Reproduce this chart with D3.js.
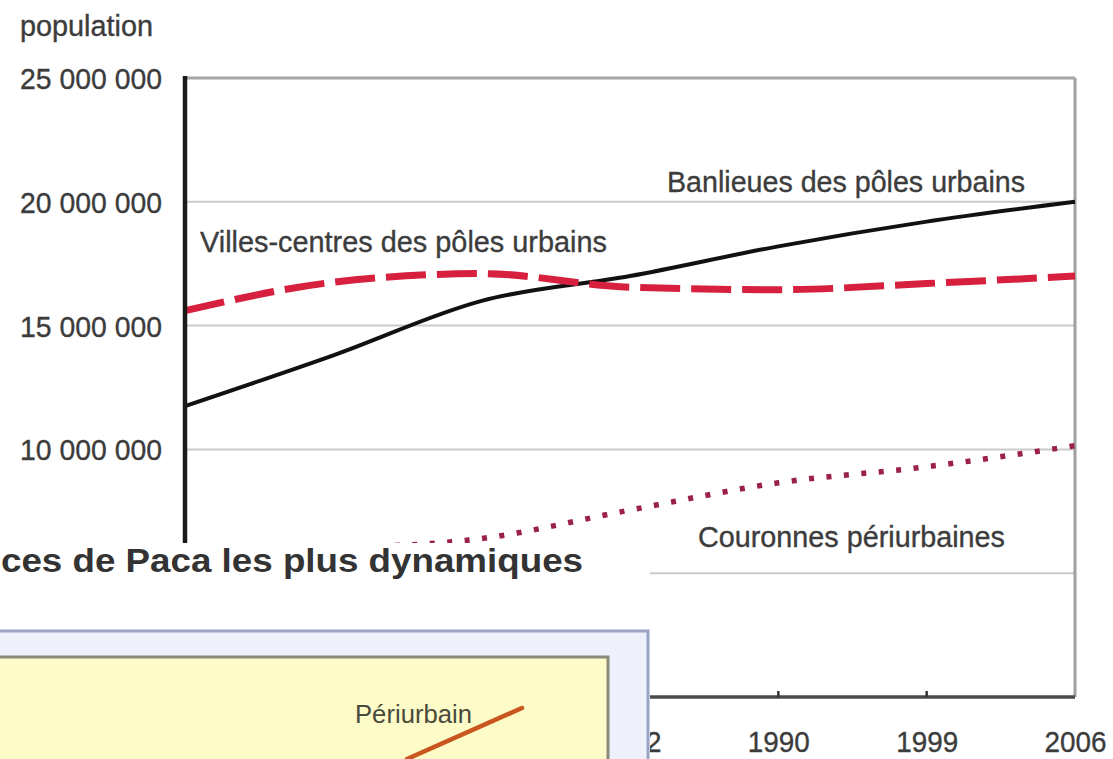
<!DOCTYPE html>
<html><head><meta charset="utf-8">
<script src="https://cdn.jsdelivr.net/npm/d3@7"></script>
<style>html,body{margin:0;padding:0;background:#fff;overflow:hidden}</style>
</head><body>
<svg id="c" width="1113" height="759"></svg>
<script>
// ---- data (population in millions) ----
const years = ["1962", "1968", "1975", "1982", "1990", "1999", "2006"];
const banlieues = [11.75, 13.8, 16.0, 17.0, 18.2, 19.2, 20.0];
const villesCentres = [15.6, 16.75, 17.1, 16.55, 16.45, 16.7, 17.0];
const couronnes = [5.8, 6.0, 6.4, 7.55, 8.65, 9.3, 10.15];
const gridValues = [20, 15, 10, 5];
const yTicks = [25, 20, 15, 10];            // labels visible (5 000 000 is hidden by the overlapping chart)
const yTickLabels = ["25 000 000", "20 000 000", "15 000 000", "10 000 000"];
const xTickYears = ["1982", "1990", "1999", "2006"];  // earlier labels are hidden by the overlapping chart
const seriesNames = ["Banlieues des pôles urbains", "Villes-centres des pôles urbains", "Couronnes périurbaines"];
// overlapping fragment of a second chart
const overlayTitle = "ces de Paca les plus dynamiques";
const periYears = [1999, 2006];
const periValues = [100, 118];
const periName = "Périurbain";

(function () {
const svg = d3.select("#c");
const FONT = "'Liberation Sans', Arial, Helvetica, sans-serif";
const TXT = "#3c3c3c";

const pL = 185, pR = 1075, pT = 78, pB = 697;
const x = d3.scalePoint().domain(years).range([pL, pR]).padding(0);
const y = d3.scaleLinear().domain([0, 25]).range([pB, pT]);

function heavy(sel) {
  return sel.attr("stroke", TXT).attr("stroke-width", 0.35);
}

// gridlines
svg.append("g").selectAll("line").data(gridValues).join("line")
  .attr("x1", pL).attr("x2", pR).attr("y1", d => y(d)).attr("y2", d => y(d))
  .attr("stroke", "#cacaca").attr("stroke-width", 2);
// top border
svg.append("line").attr("x1", pL).attr("x2", pR).attr("y1", y(25)).attr("y2", y(25))
  .attr("stroke", "#a6a6a6").attr("stroke-width", 3);
// right border
svg.append("line").attr("x1", pR).attr("x2", pR).attr("y1", y(25)).attr("y2", y(0))
  .attr("stroke", "#a0a0a0").attr("stroke-width", 3);

const line = d3.line().x((d, i) => x(years[i])).y(d => y(d)).curve(d3.curveMonotoneX);

// series
svg.append("path").datum(couronnes).attr("d", line).attr("fill", "none")
  .attr("stroke", "#9b2246").attr("stroke-width", 5.5).attr("stroke-dasharray", "5,12.5");
svg.append("path").datum(banlieues).attr("d", line).attr("fill", "none")
  .attr("stroke", "#111").attr("stroke-width", 4);
svg.append("path").datum(villesCentres).attr("d", line).attr("fill", "none")
  .attr("stroke", "#d6203e").attr("stroke-width", 7).attr("stroke-dasharray", "40,11");

// x axis
const xAxis = svg.append("g").attr("transform", `translate(0,${pB})`)
  .call(d3.axisBottom(x).tickValues(xTickYears).tickSize(0).tickPadding(0));
xAxis.select(".domain").remove();
heavy(xAxis.selectAll("text").attr("y", 55).attr("dy", 0)
  .attr("font-family", FONT).attr("font-size", 30).attr("fill", TXT)
  .attr("textLength", 62).attr("lengthAdjust", "spacingAndGlyphs"));
svg.append("line").attr("x1", pL).attr("x2", pR).attr("y1", pB).attr("y2", pB)
  .attr("stroke", "#4a4a4a").attr("stroke-width", 3.5);
svg.append("g").selectAll("line").data(years.slice(1, -1)).join("line")
  .attr("x1", d => x(d)).attr("x2", d => x(d)).attr("y1", pB).attr("y2", pB - 6)
  .attr("stroke", "#333").attr("stroke-width", 2.5);

// y axis
const yAxis = svg.append("g").attr("transform", `translate(${pL},0)`)
  .call(d3.axisLeft(y).tickValues(yTicks).tickFormat((d, i) => yTickLabels[i]).tickSize(0).tickPadding(23));
yAxis.select(".domain").remove();
heavy(yAxis.selectAll("text").attr("font-family", FONT).attr("font-size", 30).attr("fill", TXT)
  .attr("dy", "0.35em")
  .attr("textLength", 142).attr("lengthAdjust", "spacingAndGlyphs"));
svg.append("line").attr("x1", pL).attr("x2", pL).attr("y1", pT - 2).attr("y2", pB)
  .attr("stroke", "#1a1a1a").attr("stroke-width", 4.5);

heavy(svg.append("text").text("population").attr("x", 20).attr("y", 36)
  .attr("font-family", FONT).attr("font-size", 29).attr("fill", TXT)
  .attr("textLength", 133).attr("lengthAdjust", "spacingAndGlyphs"));

// series labels
const labels = [
  { t: seriesNames[1], x: 200, y: 252, w: 407 },
  { t: seriesNames[0], x: 667, y: 192, w: 358 },
  { t: seriesNames[2], x: 698, y: 547, w: 307 }
];
heavy(svg.append("g").selectAll("text").data(labels).join("text")
  .text(d => d.t).attr("x", d => d.x).attr("y", d => d.y)
  .attr("font-family", FONT).attr("font-size", 30).attr("fill", TXT)
  .attr("textLength", d => d.w).attr("lengthAdjust", "spacingAndGlyphs"));

// ---- overlapping fragment of second chart ----
const ov = svg.append("g");
ov.append("rect").attr("x", -5).attr("y", 543).attr("width", 655).attr("height", 230).attr("fill", "#fff");
ov.append("text").text(overlayTitle).attr("x", 1).attr("y", 572)
  .attr("font-family", FONT).attr("font-weight", "bold").attr("font-size", 34).attr("fill", "#333")
  .attr("textLength", 582).attr("lengthAdjust", "spacingAndGlyphs");
ov.append("rect").attr("x", -10).attr("y", 631).attr("width", 658).attr("height", 200)
  .attr("fill", "#eef0fc").attr("stroke", "#9aa2c8").attr("stroke-width", 3);
ov.append("rect").attr("x", -10).attr("y", 657).attr("width", 618).attr("height", 200)
  .attr("fill", "#fdfbc8").attr("stroke", "#8a8a7a").attr("stroke-width", 3);
const xo = d3.scaleLinear().domain([1999, 2006]).range([407, 522]);
const yo = d3.scaleLinear().domain([100, 118]).range([759, 708]);
ov.append("path").datum(periValues)
  .attr("d", d3.line().x((d, i) => xo(periYears[i])).y(d => yo(d)))
  .attr("fill", "none").attr("stroke", "#c9561e").attr("stroke-width", 4.5).attr("stroke-linecap", "round");
ov.append("text").text(periName).attr("x", 355).attr("y", 723)
  .attr("font-family", FONT).attr("font-size", 25).attr("fill", "#4a4a3c")
  .attr("textLength", 117).attr("lengthAdjust", "spacingAndGlyphs");
})();
</script>
</body></html>
